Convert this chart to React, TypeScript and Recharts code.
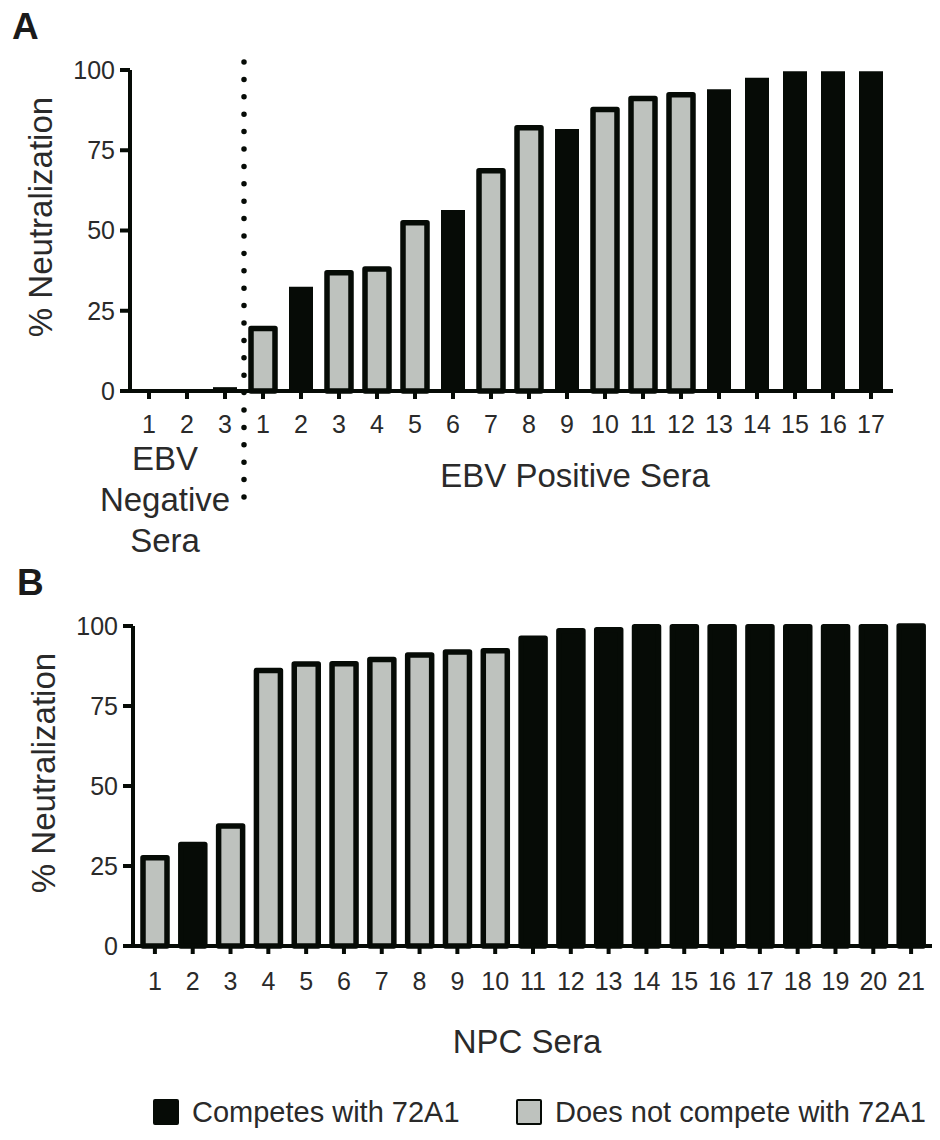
import React from 'react';
import { BarChart, Bar, XAxis, YAxis, Cell, ReferenceLine, Label, Legend } from 'recharts';

// ---------- data ----------
const negLabels = ['1', '2', '3'];
const negValues = [0, 0, 1.2];
const negCompetes = [true, true, true];

const posLabels = ['1', '2', '3', '4', '5', '6', '7', '8', '9', '10', '11', '12', '13', '14', '15', '16', '17'];
const posValues = [19.5, 32.5, 36.8, 38, 52.4, 56.4, 68.6, 82, 81.6, 87.7, 91.1, 92.3, 94, 97.6, 99.6, 99.6, 99.6];
const posCompetes = [false, true, false, false, false, true, false, false, true, false, false, false, true, true, true, true, true];

const npcLabels = ['1', '2', '3', '4', '5', '6', '7', '8', '9', '10', '11', '12', '13', '14', '15', '16', '17', '18', '19', '20', '21'];
const npcValues = [27.6, 31.7, 37.5, 86.1, 88.1, 88.2, 89.5, 90.9, 91.9, 92.3, 96.2, 98.5, 98.8, 99.8, 99.8, 99.8, 99.8, 99.8, 99.8, 99.8, 100];
const npcCompetes = [false, true, false, false, false, false, false, false, false, false, true, true, true, true, true, true, true, true, true, true, true];

const yTicks = [0, 25, 50, 75, 100];
const legendLabels = ['Competes with 72A1', 'Does not compete with 72A1'];

// ---------- style ----------
const BLACK = '#060b06';
const GRAY = '#bec2be';
const TEXT = '#2a2a2a';
const FONT = '"Liberation Sans", Arial, Helvetica, sans-serif';

const dataA = [
  ...negLabels.map((l, i) => ({ id: 'N' + l, label: l, value: negValues[i], competes: negCompetes[i] })),
  ...posLabels.map((l, i) => ({ id: 'P' + l, label: l, value: posValues[i], competes: posCompetes[i] })),
];
const dataB = npcLabels.map((l, i) => ({ id: 'C' + l, label: l, value: npcValues[i], competes: npcCompetes[i] }));

const labelOf = (v: string) => v.slice(1);

const tickStyle = { fontSize: 25, fill: TEXT };
const axisStroke = { stroke: BLACK, strokeWidth: 4 };

function YTitle({ cx, cy }: { cx: number; cy: number }) {
  return (
    <text
      x={cx}
      y={cy}
      transform={`rotate(-90 ${cx} ${cy})`}
      textAnchor="middle"
      dominantBaseline="central"
      fontSize={33}
      fill={TEXT}
    >
      % Neutralization
    </text>
  );
}

function PanelA() {
  return (
    <BarChart width={940} height={560} data={dataA} margin={{ top: 70, right: 47, left: 0, bottom: 0 }}>
      <YAxis
        type="number"
        domain={[0, 100]}
        ticks={yTicks}
        width={130}
        tickSize={10}
        tickMargin={5}
        tick={tickStyle}
        axisLine={axisStroke}
        tickLine={axisStroke}
      >
        <Label content={() => <YTitle cx={40} cy={217} />} />
      </YAxis>
      <XAxis
        dataKey="id"
        interval={0}
        height={169}
        padding={{ left: 0, right: 3 }}
        tickSize={8}
        tickMargin={16}
        tick={tickStyle}
        tickFormatter={labelOf}
        axisLine={axisStroke}
        tickLine={axisStroke}
      >
        <Label
          content={() => (
            <g>
              <text x={575} y={487} textAnchor="middle" fontSize={33} fill={TEXT}>EBV Positive Sera</text>
              <text x={165} y={470} textAnchor="middle" fontSize={33} fill={TEXT}>EBV</text>
              <text x={165} y={511} textAnchor="middle" fontSize={33} fill={TEXT}>Negative</text>
              <text x={165} y={552} textAnchor="middle" fontSize={33} fill={TEXT}>Sera</text>
            </g>
          )}
        />
      </XAxis>
      <ReferenceLine
        segment={[{ x: 'N3', y: 102.5 }, { x: 'N3', y: -33.5 }]}
        position="end"
        ifOverflow="visible"
        stroke={BLACK}
        strokeWidth={5.5}
        strokeDasharray="0 17.4"
        strokeLinecap="round"
      />
      <Bar dataKey="value" barSize={24} isAnimationActive={false}>
        {dataA.map((d) => (
          <Cell
            key={d.id}
            fill={d.competes ? BLACK : GRAY}
            stroke={d.competes ? 'none' : BLACK}
            strokeWidth={5.5}
            strokeLinejoin="round"
          />
        ))}
      </Bar>
    </BarChart>
  );
}

function PanelB() {
  return (
    <BarChart width={940} height={580} data={dataB} margin={{ top: 66, right: 8, left: 0, bottom: 0 }}>
      <YAxis
        type="number"
        domain={[0, 100]}
        ticks={yTicks}
        width={133}
        tickSize={10}
        tickMargin={5}
        tick={tickStyle}
        axisLine={axisStroke}
        tickLine={axisStroke}
      >
        <Label content={() => <YTitle cx={43} cy={213} />} />
      </YAxis>
      <XAxis
        dataKey="id"
        interval={0}
        height={194}
        padding={{ left: 3, right: 2 }}
        tickSize={8}
        tickMargin={18}
        tick={tickStyle}
        tickFormatter={labelOf}
        axisLine={axisStroke}
        tickLine={axisStroke}
      >
        <Label
          content={() => (
            <text x={527} y={493} textAnchor="middle" fontSize={33} fill={TEXT}>NPC Sera</text>
          )}
        />
      </XAxis>
      <Legend
        layout="horizontal"
        verticalAlign="middle"
        align="center"
        wrapperStyle={{ position: 'absolute', top: 532, left: 0, width: 940, height: 40 }}
        content={() => (
          <div style={{ position: 'relative', width: 940, height: 40, fontSize: 29, color: TEXT, fontFamily: FONT }}>
            {legendLabels.map((lab, i) => (
              <div
                key={lab}
                style={{
                  position: 'absolute',
                  left: i === 0 ? 153 : 516,
                  top: 0,
                  height: 40,
                  display: 'flex',
                  alignItems: 'center',
                  whiteSpace: 'nowrap',
                }}
              >
                <span
                  style={{
                    display: 'inline-block',
                    width: 26,
                    height: 26,
                    boxSizing: 'border-box',
                    background: i === 0 ? BLACK : GRAY,
                    border: `2.5px solid ${BLACK}`,
                    borderRadius: 2,
                    marginRight: 13,
                  }}
                />
                <span>{lab}</span>
              </div>
            ))}
          </div>
        )}
      />
      <Bar dataKey="value" barSize={24} isAnimationActive={false}>
        {dataB.map((d) => (
          <Cell
            key={d.id}
            fill={d.competes ? BLACK : GRAY}
            stroke={BLACK}
            strokeWidth={5.5}
            strokeLinejoin="round"
          />
        ))}
      </Bar>
    </BarChart>
  );
}

export default function App() {
  return (
    <div
      style={{
        position: 'absolute',
        left: 0,
        top: 0,
        width: 940,
        height: 1140,
        background: '#fff',
        fontFamily: FONT,
        overflow: 'hidden',
      }}
    >
      <svg width={940} height={60} style={{ position: 'absolute', left: 0, top: 0 }}>
        <text x={12} y={39} fontSize={37} fontWeight="bold" fill="#1a1a1a">A</text>
      </svg>
      <svg width={940} height={60} style={{ position: 'absolute', left: 0, top: 555 }}>
        <text x={17} y={40} fontSize={37} fontWeight="bold" fill="#1a1a1a">B</text>
      </svg>
      <div style={{ position: 'absolute', left: 0, top: 0 }}>
        <PanelA />
      </div>
      <div style={{ position: 'absolute', left: 0, top: 560 }}>
        <PanelB />
      </div>
    </div>
  );
}
